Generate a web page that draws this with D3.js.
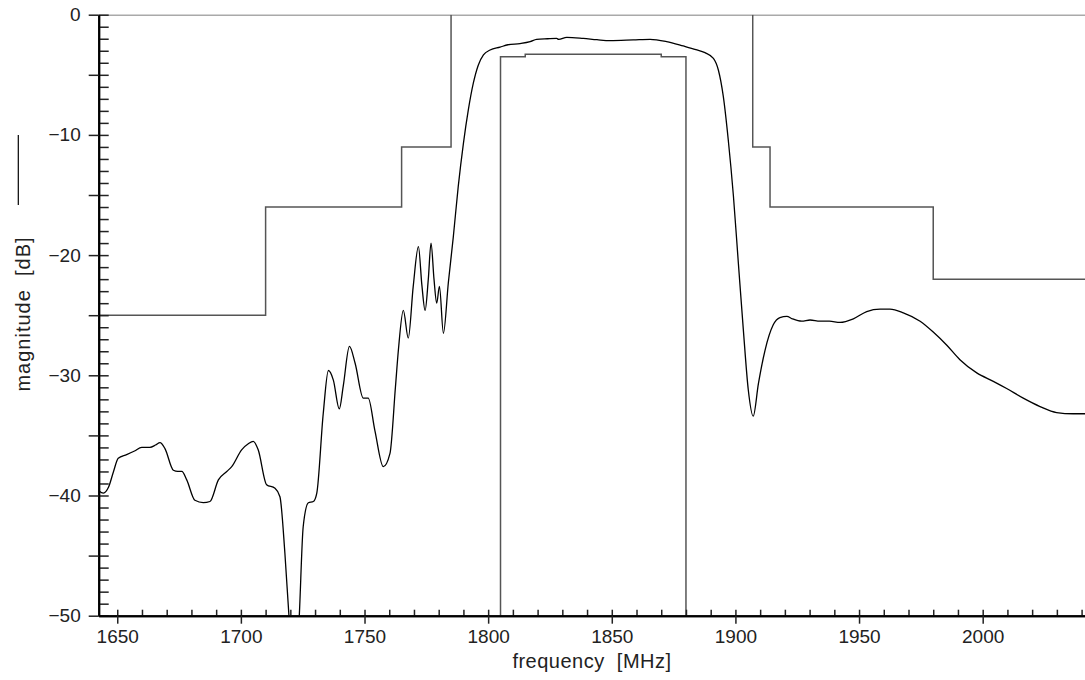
<!DOCTYPE html>
<html>
<head>
<meta charset="utf-8">
<script src="https://cdn.jsdelivr.net/npm/d3@7"></script>
<style>
  html, body { margin: 0; padding: 0; background: #fff; }
  svg { display: block; }
  text { font-family: "Liberation Sans", Arial, sans-serif; fill: #222; }
</style>
</head>
<body>
<svg id="chart" width="1085" height="680"></svg>
<script>
// ---------- data ----------
const freq = [1642.5,1644.4,1646.5,1648.5,1650.4,1653.8,1657,1659.9,1663.2,1665.5,1667.3,1669.3,1672.7,1674.5,1676.1,1678.1,1681.4,1684.8,1687.5,1690.9,1694.3,1696.3,1700.3,1703,1705.0,1707.0,1710.4,1713.8,1715.8,1717.8,1719.6,1721.5,1723.5,1725.2,1727.3,1729.3,1730.7,1733.3,1735.4,1737.4,1739.8,1741.4,1743.9,1746.2,1749.5,1751.5,1754.2,1757.6,1760.3,1762.5,1763.7,1765.7,1767.7,1769.7,1771.8,1773.2,1774.5,1775.8,1776.9,1778.1,1779.2,1780.3,1781.9,1783.9,1785.9,1787.9,1790.0,1792.0,1794.0,1796.0,1798.1,1800.8,1804.8,1808,1812.9,1817,1819.6,1824,1827.7,1828.5,1831.8,1838.5,1844,1849.3,1858.7,1865.5,1872.2,1878.9,1884,1887.7,1891.1,1893.1,1895.1,1897.1,1899.2,1901.2,1903.2,1905.2,1907.2,1909.3,1912.0,1915.3,1918,1920.8,1923,1926.8,1930.2,1934.2,1938,1942.3,1947.7,1953.1,1958.5,1962.5,1967.9,1974.7,1980.0,1985.5,1990.8,1997.6,2004.3,2009.7,2016.4,2023.2,2029.9,2036.6,2042];
const magnitude = [-39.6,-39.8,-39.3,-38.0,-36.9,-36.6,-36.3,-36.0,-36.0,-35.8,-35.6,-36.1,-37.9,-38.0,-38.0,-38.7,-40.4,-40.6,-40.5,-38.7,-38.0,-37.6,-36.2,-35.7,-35.5,-36.2,-39.1,-39.4,-40.1,-44.8,-50.5,-55,-50.5,-42.6,-40.6,-40.5,-39.8,-33.2,-29.6,-30.4,-32.8,-30.9,-27.6,-29.0,-31.9,-31.9,-34.6,-37.6,-36.5,-31.0,-27.9,-24.6,-26.9,-22.6,-19.3,-22.5,-24.6,-22.0,-19.0,-22.0,-24.0,-22.6,-26.5,-22.3,-18.5,-14.3,-10.7,-7.9,-5.7,-4.2,-3.35,-2.94,-2.7,-2.5,-2.4,-2.24,-2.05,-2.0,-1.97,-2.05,-1.88,-1.97,-2.08,-2.16,-2.1,-2.05,-2.24,-2.6,-2.9,-3.16,-3.63,-4.6,-6.8,-10.4,-15.1,-20.7,-26.2,-31.2,-33.4,-30.7,-27.9,-25.8,-25.2,-25.1,-25.3,-25.5,-25.4,-25.5,-25.5,-25.6,-25.3,-24.7,-24.5,-24.5,-24.8,-25.5,-26.4,-27.5,-28.7,-29.8,-30.5,-31.1,-31.9,-32.6,-33.1,-33.2,-33.2];

// stopband masks (step lines) and passband mask
const maskLeftF  = [1642.5, 1710, 1765, 1785];
const maskLeftDb = [-25, -16, -11, 0];
const maskRightF  = [1907, 1907, 1914, 1980, 2042];
const maskRightDb = [0, -11, -16, -22, -22];
const passMaskF  = [1805, 1805, 1815, 1870, 1880];
const passMaskDb = [-50, -3.5, -3.3, -3.5, -50];
const topLineF  = [1642.5, 2042];
const topLineDb = [0, 0];

const xMinorTicks = d3.range(1650, 2041, 10);
const xMajorTicks = [1650, 1700, 1750, 1800, 1850, 1900, 1950, 2000];
const yMinorTicks = d3.range(-50, 0.5, 1);
const yMajorTicks = d3.range(-50, 0.5, 5);

// ---------- layout ----------
const svg = d3.select("#chart");
const L = 98.7, R = 1085.3, T = 14.7, B = 615.7;
const x = d3.scaleLinear().domain([1642.5, 2041.5]).range([L, R]);
const y = d3.scaleLinear().domain([-50, 0]).range([B, T]);

svg.append("defs").append("clipPath").attr("id", "clip")
  .append("rect").attr("x", L).attr("y", T).attr("width", R - L).attr("height", B - T);

const g = svg.append("g").attr("clip-path", "url(#clip)");
const zip = (a, b) => a.map((v, i) => [v, b[i]]);
const stepLine = d3.line().x(d => x(d[0])).y(d => y(d[1])).curve(d3.curveStepAfter);

g.append("path").datum(zip(topLineF, topLineDb))
  .attr("d", stepLine).attr("fill", "none").attr("stroke", "#555").attr("stroke-width", 1.5);
g.append("path").datum(zip(maskLeftF, maskLeftDb))
  .attr("d", stepLine).attr("fill", "none").attr("stroke", "#555").attr("stroke-width", 1.5);
g.append("path").datum(zip(maskRightF, maskRightDb))
  .attr("d", stepLine).attr("fill", "none").attr("stroke", "#555").attr("stroke-width", 1.5);
g.append("path").datum(zip(passMaskF, passMaskDb))
  .attr("d", stepLine).attr("fill", "none").attr("stroke", "#555").attr("stroke-width", 1.5);

const curveLine = d3.line().x(d => x(d[0])).y(d => y(d[1])).curve(d3.curveMonotoneX);
g.append("path").datum(zip(freq, magnitude))
  .attr("d", curveLine).attr("fill", "none").attr("stroke", "#000").attr("stroke-width", 1.3);

// ---------- axes ----------
const fmt = d3.format("d");
const yInner = svg.append("g").attr("transform", `translate(${L},0)`)
  .call(d3.axisLeft(y).tickValues(yMinorTicks).tickSize(-10).tickSizeOuter(0).tickFormat(""));
const yOuter = svg.append("g").attr("transform", `translate(${L},0)`)
  .call(d3.axisLeft(y).tickValues(yMajorTicks).tickSize(10).tickSizeOuter(0).tickPadding(8)
    .tickFormat(d => d % 10 === 0 ? fmt(d) : ""));
const xInner = svg.append("g").attr("transform", `translate(0,${B})`)
  .call(d3.axisBottom(x).tickValues(xMinorTicks).tickSize(-6).tickSizeOuter(0).tickFormat(""));
const xOuter = svg.append("g").attr("transform", `translate(0,${B})`)
  .call(d3.axisBottom(x).tickValues(xMajorTicks).tickSize(8).tickSizeOuter(0).tickPadding(6).tickFormat(fmt));

[yInner, yOuter, xInner, xOuter].forEach(a => {
  a.selectAll(".domain").attr("stroke", "#000").attr("stroke-width", 2);
  a.selectAll(".tick line").attr("stroke", "#222").attr("stroke-width", 1.5);
  a.selectAll("text").attr("font-size", 19).attr("fill", "#222")
    .style("font-family", '"Liberation Sans", Arial, sans-serif');
});

// ---------- titles ----------
svg.append("text")
  .attr("x", 592).attr("y", 668).attr("text-anchor", "middle")
  .attr("font-size", 20).attr("letter-spacing", 0.5)
  .style("white-space", "pre")
  .text("frequency  [MHz]");

svg.append("text")
  .attr("transform", "translate(30,314) rotate(-90)")
  .attr("text-anchor", "middle")
  .attr("font-size", 20).attr("letter-spacing", 1)
  .style("white-space", "pre")
  .text("magnitude  [dB]");

// legend line next to y title
svg.append("line")
  .attr("x1", 18.3).attr("x2", 18.3).attr("y1", 135).attr("y2", 205)
  .attr("stroke", "#000").attr("stroke-width", 1.2);
</script>
</body>
</html>
